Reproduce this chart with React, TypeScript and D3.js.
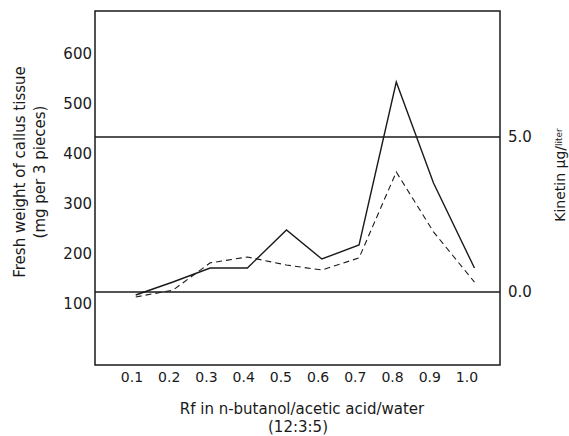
import React, { useRef, useEffect } from "react";
import * as d3 from "d3";

// Rf values of the eluate fractions
const rf = [0.11, 0.21, 0.31, 0.41, 0.515, 0.61, 0.71, 0.81, 0.91, 1.02];
// fresh weight of callus tissue (mg per 3 pieces), left axis
const freshWeight = [118, 144, 172, 172, 248, 190, 218, 544, 342, 172];
// kinetin equivalent (ug/liter), right axis
const kinetin = [-0.16, 0.06, 0.94, 1.13, 0.87, 0.71, 1.1, 3.87, 1.94, 0.32];

const xTicks = [0.1, 0.2, 0.3, 0.4, 0.5, 0.6, 0.7, 0.8, 0.9, 1.0];
const leftTicks = [100, 200, 300, 400, 500, 600];
const rightTicks = [0, 5];

function App() {
  const ref = useRef<SVGSVGElement>(null);

  useEffect(() => {
    const W = 569;
    const H = 436;
    const left = 95;
    const right = 500;
    const top = 11;
    const bottom = 365;
    const ink = "#1a1a1a";
    const font = "DejaVu Sans, sans-serif";

    const svg = d3.select(ref.current);
    svg.selectAll("*").remove();
    svg.attr("width", W).attr("height", H);
    svg.append("rect").attr("width", W).attr("height", H).attr("fill", "#fff");

    const x = d3.scaleLinear().domain([0.1, 1.0]).range([132, 467]);
    const yL = d3.scaleLinear().domain([0, 600]).range([354, 54]);
    const yR = d3.scaleLinear().domain([0, 5]).range([292, 137]);

    // frame
    svg
      .append("rect")
      .attr("x", left)
      .attr("y", top)
      .attr("width", right - left)
      .attr("height", bottom - top)
      .attr("fill", "none")
      .attr("stroke", ink)
      .attr("stroke-width", 1.5);

    // right-axis reference lines at 0.0 and 5.0
    svg
      .selectAll("line.ref")
      .data(rightTicks)
      .enter()
      .append("line")
      .attr("x1", left)
      .attr("x2", right)
      .attr("y1", (d) => yR(d))
      .attr("y2", (d) => yR(d))
      .attr("stroke", ink)
      .attr("stroke-width", 1.5);

    // left tick labels
    svg
      .selectAll("text.yl")
      .data(leftTicks)
      .enter()
      .append("text")
      .text((d) => d)
      .attr("x", left - 3)
      .attr("y", (d) => yL(d) + 5)
      .attr("text-anchor", "end")
      .attr("font-family", font)
      .attr("font-size", 15)
      .attr("fill", ink);

    // right tick labels
    svg
      .selectAll("text.yr")
      .data(rightTicks)
      .enter()
      .append("text")
      .text((d) => d.toFixed(1))
      .attr("x", right + 8)
      .attr("y", (d) => yR(d) + 5)
      .attr("font-family", font)
      .attr("font-size", 15)
      .attr("fill", ink);

    // x tick labels
    svg
      .selectAll("text.xt")
      .data(xTicks)
      .enter()
      .append("text")
      .text((d) => d.toFixed(1))
      .attr("x", (d) => x(d))
      .attr("y", 382)
      .attr("text-anchor", "middle")
      .attr("font-family", font)
      .attr("font-size", 14)
      .attr("fill", ink);

    // fresh weight (solid)
    const solid = d3
      .line<number>()
      .x((d, i) => x(rf[i]))
      .y((d) => yL(d));
    svg
      .append("path")
      .datum(freshWeight)
      .attr("d", solid)
      .attr("fill", "none")
      .attr("stroke", ink)
      .attr("stroke-width", 1.4);

    // kinetin (dashed)
    const dashed = d3
      .line<number>()
      .x((d, i) => x(rf[i]))
      .y((d) => yR(d));
    svg
      .append("path")
      .datum(kinetin)
      .attr("d", dashed)
      .attr("fill", "none")
      .attr("stroke", ink)
      .attr("stroke-width", 1.1)
      .attr("stroke-dasharray", "6,4");

    // axis titles
    const lt = svg
      .append("text")
      .attr("transform", "translate(25,172) rotate(-90)")
      .attr("text-anchor", "middle")
      .attr("font-family", font)
      .attr("font-size", 15)
      .attr("fill", ink);
    lt.append("tspan").attr("x", 0).attr("dy", 0).text("Fresh weight of callus tissue");
    lt.append("tspan").attr("x", 0).attr("dy", 20).text("(mg per 3 pieces)");

    const rt = svg
      .append("text")
      .attr("transform", "translate(565,175) rotate(-90)")
      .attr("text-anchor", "middle")
      .attr("font-family", font)
      .attr("font-size", 14)
      .attr("fill", ink);
    rt.append("tspan").text("Kinetin \u03BCg/");
    rt.append("tspan").attr("font-size", 9).attr("dy", -3).text("liter");

    const bt = svg
      .append("text")
      .attr("text-anchor", "middle")
      .attr("font-family", font)
      .attr("font-size", 15)
      .attr("fill", ink);
    bt.append("tspan").attr("x", 302).attr("y", 414).text("Rf in n-butanol/acetic acid/water");
    bt.append("tspan").attr("x", 298).attr("y", 432).text("(12:3:5)");
  }, []);

  return (
    <svg
      ref={ref}
      style={{ position: "absolute", left: 0, top: 0, display: "block" }}
    />
  );
}

export default App;
